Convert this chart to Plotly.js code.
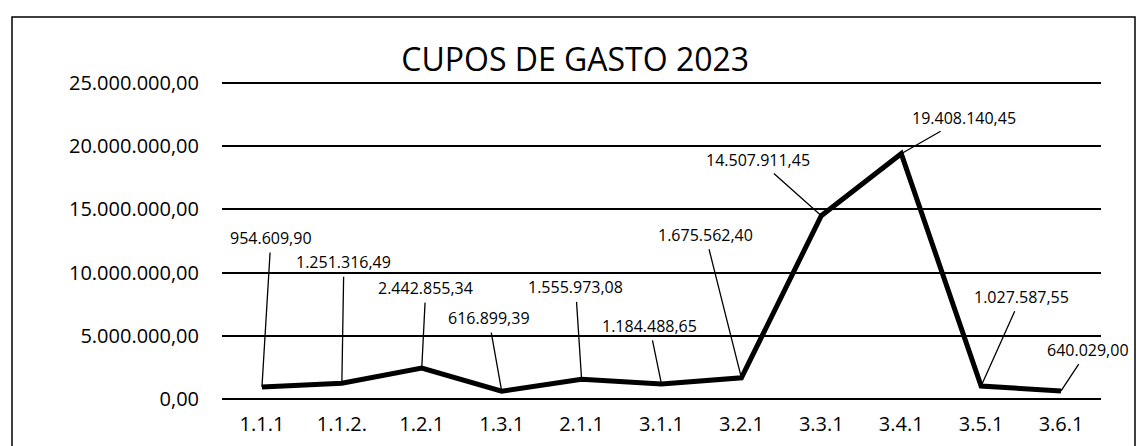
<!DOCTYPE html>
<html>
<head>
<meta charset="utf-8">
<script src="https://cdn.plot.ly/plotly-3.0.1.min.js"></script>
<style>
  html, body { margin: 0; padding: 0; background: #fff; }
  #chart { width: 1139px; height: 446px; }
</style>
</head>
<body>
<div id="chart"></div>
<script>
const categories = ['1.1.1', '1.1.2.', '1.2.1', '1.3.1', '2.1.1', '3.1.1', '3.2.1', '3.3.1', '3.4.1', '3.5.1', '3.6.1'];
const values = [954609.90, 1251316.49, 2442855.34, 616899.39, 1555973.08, 1184488.65, 1675562.40, 14507911.45, 19408140.45, 1027587.55, 640029.00];
const yTickVals = [0, 5000000, 10000000, 15000000, 20000000, 25000000];
const labelOffsetX = [9, 2, 4, -13, -6, -12, -36, -63, 63, 40, 27];
const labelOffsetY = [-149, -121, -80, -73, -92, -58, -143, -56, -36, -89, -41];

function fmt(v) {
  const parts = v.toFixed(2).split('.');
  const intPart = parts[0].replace(/\B(?=(\d{3})+(?!\d))/g, '.');
  return intPart + ',' + parts[1];
}

const FONT = 'Open Sans, Liberation Sans, sans-serif';

const trace = {
  type: 'scatter',
  mode: 'lines',
  x: categories,
  y: values,
  line: { color: '#000', width: 5 },
  hoverinfo: 'x+y'
};

const annotations = categories.map((c, i) => ({
  x: c,
  y: values[i],
  xref: 'x',
  yref: 'y',
  text: fmt(values[i]),
  showarrow: true,
  arrowhead: 0,
  arrowwidth: 1.3,
  arrowcolor: '#000',
  ax: labelOffsetX[i],
  ay: labelOffsetY[i],
  standoff: 0,
  startstandoff: 2,
  font: { family: FONT, size: 16, color: '#000' }
}));

// outer border as a paper-referenced shape
const L = 222, R = 38, T = 78, B = 47;
const W = 1139, H = 446;
const pw = W - L - R, ph = H - T - B;
const px = p => (p - L) / pw;
const py = p => (H - B - p) / ph;

const layout = {
  width: W,
  height: H,
  margin: { l: L, r: R, t: T, b: B, pad: 0 },
  paper_bgcolor: '#fff',
  plot_bgcolor: '#fff',
  showlegend: false,
  separators: ',.',
  title: {
    text: 'CUPOS DE GASTO 2023',
    font: { family: FONT, size: 32, color: '#000' },
    x: 0.505,
    xanchor: 'center',
    y: 1 - 60 / H,
    yanchor: 'middle',
    yref: 'container'
  },
  xaxis: {
    type: 'category',
    range: [-0.5, 10.5],
    showgrid: false,
    showline: false,
    zeroline: false,
    ticks: '',
    tickfont: { family: FONT, size: 20, color: '#000' },
    ticklabelstandoff: 11
  },
  yaxis: {
    range: [0, 25400000],
    tickvals: yTickVals,
    tickformat: ',.2f',
    showgrid: true,
    gridcolor: '#000',
    gridwidth: 2,
    zeroline: true,
    zerolinecolor: '#000',
    zerolinewidth: 2,
    showline: false,
    ticks: '',
    tickfont: { family: FONT, size: 20, color: '#000' },
    ticklabelstandoff: 22
  },
  annotations: annotations,
  shapes: [{
    type: 'rect',
    xref: 'paper', yref: 'paper',
    x0: px(12), x1: px(1135),
    y0: py(452), y1: py(17),
    line: { color: '#000', width: 1.5 },
    fillcolor: 'rgba(0,0,0,0)',
    layer: 'below'
  }]
};

Plotly.newPlot('chart', [trace], layout, { displayModeBar: false, staticPlot: true });
</script>
</body>
</html>
